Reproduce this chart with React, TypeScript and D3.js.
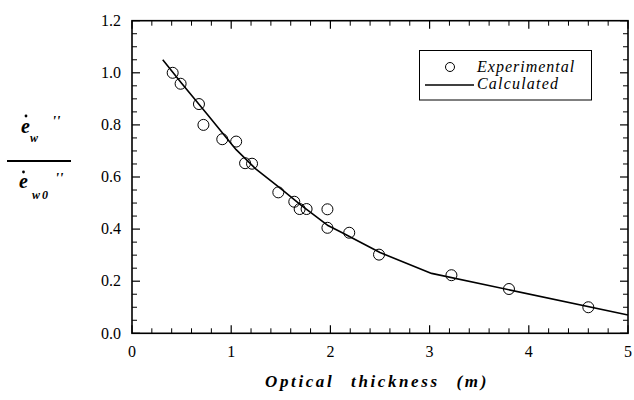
import React from "react";
import * as d3 from "d3";

const expX = [0.41, 0.49, 0.675, 0.72, 0.91, 1.05, 1.14, 1.21, 1.475, 1.636, 1.69, 1.76, 1.97, 1.97, 2.19, 2.49, 3.22, 3.8, 4.6];
const expY = [1.0, 0.958, 0.88, 0.8, 0.745, 0.736, 0.653, 0.651, 0.541, 0.505, 0.477, 0.477, 0.476, 0.405, 0.386, 0.302, 0.223, 0.17, 0.1];

const calcX = [0.31, 0.5, 0.75, 1.05, 1.25, 1.5, 1.7, 1.97, 2.1, 2.5, 3.02, 5.0];
const calcY = [1.05, 0.96, 0.845, 0.705, 0.63, 0.555, 0.493, 0.415, 0.39, 0.31, 0.23, 0.07];

const xMajor = [0, 1, 2, 3, 4, 5];
const xTickLabels = ["0", "1", "2", "3", "4", "5"];
const yMajor = [0, 0.2, 0.4, 0.6, 0.8, 1.0, 1.2];
const yTickLabels = ["0.0", "0.2", "0.4", "0.6", "0.8", "1.0", "1.2"];

const legendLabels = ["Experimental", "Calculated"];
const xTitle = "Optical thickness (m)";

export default function App() {
  const W = 634, H = 400;
  const x = d3.scaleLinear().domain([0, 5]).range([132, 628]);
  const y = d3.scaleLinear().domain([0, 1.2]).range([333.3, 20.7]);
  const xMinor = d3.range(0, 5.0001, 0.2).filter((v) => Math.abs(v - Math.round(v)) > 1e-6);
  const yMinor = d3.range(0, 1.2001, 0.05).filter((v) => Math.abs(v / 0.2 - Math.round(v / 0.2)) > 1e-6);
  const line = d3.line<number>().x((_, i) => x(calcX[i])).y((_, i) => y(calcY[i]));
  const [x0, x1] = x.range();
  const [y0, y1] = y.range();
  const serif = "Liberation Serif";
  const maj = 8, mnr = 5;
  const ff = { fontFamily: serif };
  return (
    <svg width={W} height={H} style={{ position: "absolute", left: 0, top: 0, background: "#fff" }}>
      <rect x={0} y={0} width={W} height={H} fill="#fff" />
      <rect x={x0} y={y1} width={x1 - x0} height={y0 - y1} fill="none" stroke="#000" strokeWidth={1.6} />
      {xMajor.map((v) => (
        <g key={"xm" + v}>
          <line x1={x(v)} x2={x(v)} y1={y0} y2={y0 - maj} stroke="#000" strokeWidth={1.2} />
          <line x1={x(v)} x2={x(v)} y1={y1} y2={y1 + maj} stroke="#000" strokeWidth={1.2} />
        </g>
      ))}
      {xMinor.map((v) => (
        <g key={"xn" + v}>
          <line x1={x(v)} x2={x(v)} y1={y0} y2={y0 - mnr} stroke="#000" strokeWidth={1} />
          <line x1={x(v)} x2={x(v)} y1={y1} y2={y1 + mnr} stroke="#000" strokeWidth={1} />
        </g>
      ))}
      {yMajor.map((v) => (
        <g key={"ym" + v}>
          <line x1={x0} x2={x0 + maj} y1={y(v)} y2={y(v)} stroke="#000" strokeWidth={1.2} />
          <line x1={x1} x2={x1 - maj} y1={y(v)} y2={y(v)} stroke="#000" strokeWidth={1.2} />
        </g>
      ))}
      {yMinor.map((v) => (
        <g key={"yn" + v}>
          <line x1={x0} x2={x0 + mnr} y1={y(v)} y2={y(v)} stroke="#000" strokeWidth={1} />
          <line x1={x1} x2={x1 - mnr} y1={y(v)} y2={y(v)} stroke="#000" strokeWidth={1} />
        </g>
      ))}
      {xMajor.map((v, i) => (
        <text key={"xl" + v} x={x(v)} y={357} textAnchor="middle" fontSize={16} style={ff}>{xTickLabels[i]}</text>
      ))}
      {yMajor.map((v, i) => (
        <text key={"yl" + v} x={121} y={y(v)} dy="0.33em" textAnchor="end" fontSize={16} style={ff}>{yTickLabels[i]}</text>
      ))}
      <path d={line(calcX) || ""} fill="none" stroke="#000" strokeWidth={1.6} strokeLinejoin="round" />
      {expX.map((v, i) => (
        <circle key={"p" + i} cx={x(v)} cy={y(expY[i])} r={5.5} fill="none" stroke="#000" strokeWidth={1} />
      ))}
      <rect x={419.5} y={50.5} width={172} height={49.5} fill="#fff" stroke="#000" strokeWidth={1} />
      <circle cx={450} cy={67} r={4.5} fill="none" stroke="#000" strokeWidth={1} />
      <text x={477} y={72} fontSize={16} fontStyle="italic" letterSpacing={1} style={ff}>{legendLabels[0]}</text>
      <line x1={425} x2={474} y1={85} y2={85} stroke="#000" strokeWidth={1.3} />
      <text x={477} y={89} fontSize={16} fontStyle="italic" letterSpacing={1.2} style={ff}>{legendLabels[1]}</text>
      <text x={377} y={387} textAnchor="middle" fontSize={17} fontWeight="bold" fontStyle="italic" letterSpacing={2.6} wordSpacing={10} style={ff}>{xTitle}</text>
      <g fontWeight="bold" fontStyle="italic" style={ff}>
        <text x={21} y={133} fontSize={20}>e</text>
        <circle cx={26} cy={116} r={1.4} fill="#000" />
        <text x={30} y={142} fontSize={12}>w</text>
        <text x={52} y={126} fontSize={15}>''</text>
        <line x1={7} x2={71} y1={161} y2={161} stroke="#000" strokeWidth={2} />
        <text x={19} y={188} fontSize={20}>e</text>
        <circle cx={23.5} cy={172} r={1.4} fill="#000" />
        <text x={32} y={199} fontSize={12} letterSpacing={2}>w0</text>
        <text x={55} y={183} fontSize={15}>''</text>
      </g>
    </svg>
  );
}
